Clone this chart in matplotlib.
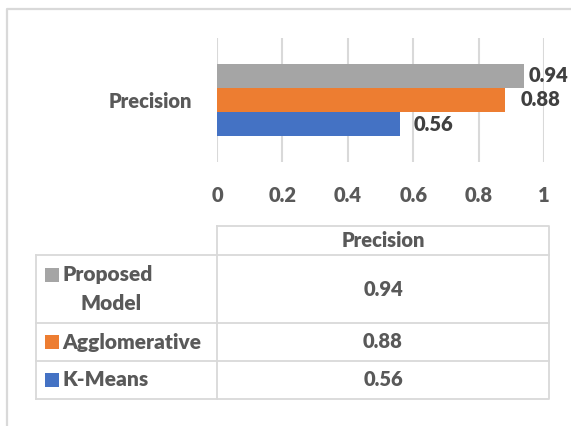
import matplotlib
matplotlib.use("Agg")
import matplotlib.pyplot as plt
from matplotlib.patches import Rectangle
import numpy as np

# data (bottom to top, as Excel draws the bars)
models = ["K-Means", "Agglomerative", "Proposed Model"]
precision = [0.56, 0.88, 0.94]
colors = ["#4472C4", "#ED7D31", "#A5A5A5"]
category = "Precision"
xticks = [0, 0.2, 0.4, 0.6, 0.8, 1]

# table rows are listed top to bottom
table_names = ["Proposed\nModel", "Agglomerative", "K-Means"]

plt.rcParams["font.family"] = ["Lato", "DejaVu Sans"]
plt.rcParams["font.weight"] = "heavy"

TXT = "#595959"
LBL = "#404040"
LINE = "#d9d9d9"
FS = 14.5

W, H = 571, 426
fig = plt.figure(figsize=(W / 100, H / 100), dpi=100)

# overlay axes in pixel coordinates (y down) for the frame and data table
ov = fig.add_axes([0, 0, 1, 1])
ov.set_xlim(0, W)
ov.set_ylim(H, 0)
ov.axis("off")

# chart area border (only top and left visible in the crop)
ov.plot([7, 7, W + 5], [H + 5, 9, 9], color=LINE, lw=1.6, solid_capstyle="butt")

# data table grid
col0, col1, col2 = 36, 217, 549
rows = [226, 255, 323, 361, 399]
ov.plot([col1, col2, col2, col1, col1], [rows[0], rows[0], rows[-1], rows[-1], rows[0]],
        color=LINE, lw=1.3)
ov.plot([col0, col0], [rows[1], rows[-1]], color=LINE, lw=1.3)
for y in rows[1:-1]:
    ov.plot([col0, col2], [y, y], color=LINE, lw=1.3)
ov.plot([col0, col1], [rows[-1], rows[-1]], color=LINE, lw=1.3)

ov.text((col1 + col2) / 2, (rows[0] + rows[1]) / 2, category, ha="center",
        va="center", color=TXT, fontsize=FS)

for i, name in enumerate(table_names):
    top, bot = rows[i + 1], rows[i + 2]
    mid = (top + bot) / 2
    idx = models.index(name.replace("\n", " "))
    ov.text((col1 + col2) / 2, mid, f"{precision[idx]:.2f}", ha="center",
            va="center", color=TXT, fontsize=FS)
    lines = name.split("\n")
    first_y = mid if len(lines) == 1 else mid - 14
    ov.add_patch(Rectangle((45, first_y - 7), 14, 14, color=colors[idx], lw=0))
    ov.text(62, first_y, lines[0], ha="left", va="center", color=TXT,
            fontsize=FS + 0.5)
    if len(lines) > 1:
        ov.text(111, first_y + 29, lines[1], ha="center", va="center", color=TXT,
                fontsize=FS + 0.5)

# bar chart axes
left, right, top, bottom = 217, 544, 38, 162
ax = fig.add_axes([left / W, 1 - bottom / H, (right - left) / W, (bottom - top) / H])
ax.set_facecolor("none")
ypos = np.arange(len(models)) - 1
ax.barh(ypos, precision, height=1.0, color=colors, zorder=3)
ax.set_xlim(0, 1)
ax.set_ylim(-2.583, 2.583)
for x in xticks:
    ax.axvline(x, color=LINE, lw=1.5, zorder=1)

for s in ax.spines.values():
    s.set_visible(False)
ax.set_xticks(xticks)
ax.set_xticklabels([f"{t:g}" for t in xticks])
ax.set_yticks([0])
ax.set_yticklabels([category])
ax.tick_params(axis="x", length=0, pad=17, labelsize=FS, labelcolor=TXT)
ax.tick_params(axis="y", length=0, pad=18, labelsize=FS, labelcolor=TXT)

# data labels, nudged right like Excel does to avoid overlaps
label_shift = [10, 11.5, 3]
for y, v, dx in zip(ypos, precision, label_shift):
    ax.annotate(f"{v:.2f}", (v, y), xytext=(dx, 0), textcoords="offset points",
                ha="left", va="center", color=LBL, fontsize=FS,
                annotation_clip=False)

fig.savefig("out.png", dpi=100)
